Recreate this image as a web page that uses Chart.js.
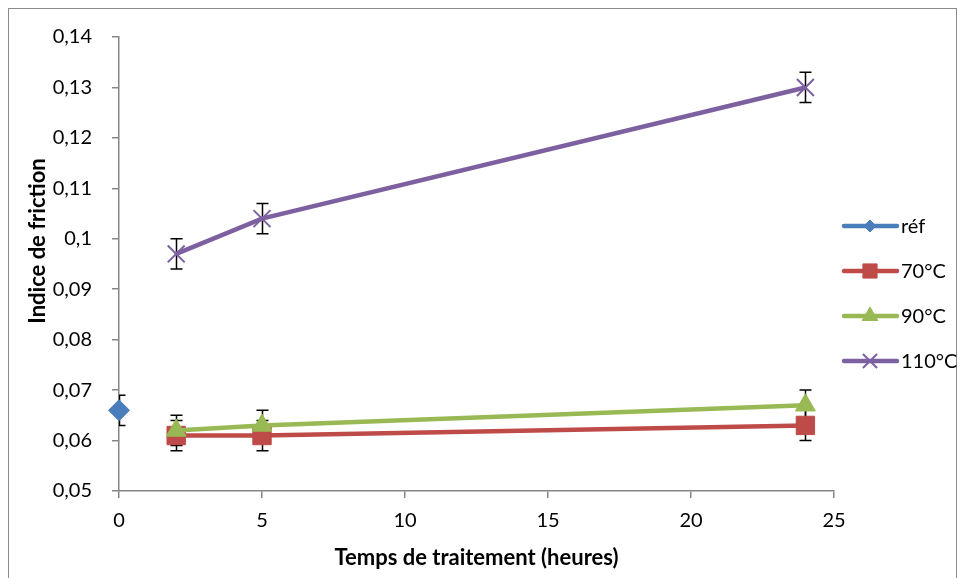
<!DOCTYPE html>
<html>
<head>
<meta charset="utf-8">
<script src="https://cdn.jsdelivr.net/npm/chart.js@4.4.1/dist/chart.umd.min.js"></script>
<style>
  html, body { margin: 0; padding: 0; background: #fff; }
  #wrap { position: relative; width: 958px; height: 578px; }
</style>
</head>
<body>
<div id="wrap"><canvas id="myChart" width="958" height="578"></canvas></div>
<script>
'use strict';

// data
var seriesNames = ['réf', '70°C', '90°C', '110°C'];
var refHours = [0];
var refValues = [0.066];
var hours = [2, 5, 24];
var values70 = [0.061, 0.061, 0.063];
var values90 = [0.062, 0.063, 0.067];
var values110 = [0.097, 0.104, 0.130];
var errRef = [0.003];
var err70 = [0.003, 0.003, 0.003];
var err90 = [0.003, 0.003, 0.003];
var err110 = [0.003, 0.003, 0.003];
var xTicks = [0, 5, 10, 15, 20, 25];
var xTitle = 'Temps de traitement (heures)';
var yTitle = 'Indice de friction';

var FONT = 'Lato, "Open Sans", sans-serif';
var colors = ['#4a7ebb', '#be4b48', '#98b954', '#7d60a0'];
var styles = ['rectRot', 'rect', 'triangle', 'crossRot'];
var radii = [10.5, 13, 11.5, 12];
var legendRadii = [6, 10, 9, 10];

function points (xs, ys, errs) {
   var out = [];
   for (var i = 0; i < xs.length; i++) out.push({ x: xs[i], y: ys[i], err: errs[i] });
   return out;
}

var datasets = [
   points(refHours, refValues, errRef),
   points(hours, values70, err70),
   points(hours, values90, err90),
   points(hours, values110, err110)
].map(function (d, i) {
   return {
      label: seriesNames[i],
      data: d,
      order: -i, // later series drawn on top, like the original
      borderColor: colors[i],
      backgroundColor: colors[i],
      borderWidth: 4.5,
      pointStyle: styles[i],
      pointRadius: radii[i],
      pointBorderWidth: i === 3 ? 2 : 1,
      pointBorderColor: colors[i],
      pointBackgroundColor: colors[i],
      showLine: true,
      tension: 0,
      clip: false
   };
});

// error bars, clipped to the plot area, drawn below the markers
var errorBars = {
   id: 'errorBars',
   beforeDatasetsDraw: function (chart) {
      var ctx = chart.ctx, area = chart.chartArea;
      var xs = chart.scales.x, ys = chart.scales.y;
      ctx.save();
      ctx.beginPath();
      ctx.rect(area.left, area.top, area.right - area.left, area.bottom - area.top);
      ctx.clip();
      ctx.strokeStyle = '#000';
      ctx.lineWidth = 1.5;
      chart.data.datasets.forEach(function (ds) {
         ds.data.forEach(function (p) {
            var px = Math.round(xs.getPixelForValue(p.x)) + 0.5;
            var top = ys.getPixelForValue(p.y + p.err);
            var bot = ys.getPixelForValue(p.y - p.err);
            ctx.beginPath();
            ctx.moveTo(px, top); ctx.lineTo(px, bot);
            ctx.moveTo(px - 6, top); ctx.lineTo(px + 6, top);
            ctx.moveTo(px - 6, bot); ctx.lineTo(px + 6, bot);
            ctx.stroke();
         });
      });
      ctx.restore();
   }
};

// frame, axis titles and a legend drawn as line + marker like the original
var decorations = {
   id: 'decorations',
   afterDraw: function (chart) {
      var ctx = chart.ctx, area = chart.chartArea;
      ctx.save();
      ctx.strokeStyle = '#8c8c8c';
      ctx.lineWidth = 1;
      ctx.strokeRect(8.5, 8.5, 948, 600);

      ctx.fillStyle = '#000';
      ctx.font = 'bold 22px ' + FONT;
      ctx.textAlign = 'center';
      ctx.textBaseline = 'middle';
      ctx.fillText(xTitle, (area.left + area.right) / 2, 558);

      ctx.save();
      ctx.translate(38, 241);
      ctx.rotate(-Math.PI / 2);
      ctx.fillText(yTitle, 0, 0);
      ctx.restore();

      chart.data.datasets.forEach(function (ds, i) {
         var y = 226 + i * 45;
         ctx.strokeStyle = ds.borderColor;
         ctx.lineWidth = 4.5;
         ctx.lineCap = 'round';
         ctx.beginPath();
         ctx.moveTo(844, y); ctx.lineTo(897, y);
         ctx.stroke();
         ctx.lineCap = 'butt';
         ctx.fillStyle = ds.borderColor;
         ctx.strokeStyle = ds.borderColor;
         ctx.lineWidth = ds.pointBorderWidth;
         Chart.helpers.drawPoint(ctx, {
            pointStyle: ds.pointStyle,
            radius: legendRadii[i],
            borderWidth: ds.pointBorderWidth
         }, 870, y);
         ctx.fillStyle = '#000';
         ctx.font = '20px ' + FONT;
         ctx.textBaseline = 'middle';
         ctx.textAlign = 'left';
         ctx.fillText(ds.label, 901, y + 1);
      });
      ctx.restore();
   }
};

var axisColor = '#868686';

new Chart(document.getElementById('myChart'), {
   type: 'scatter',
   data: { datasets: datasets },
   plugins: [errorBars, decorations],
   options: {
      responsive: false,
      animation: false,
      layout: { padding: { left: 22, top: 37, right: 124, bottom: 6 } },
      plugins: { legend: { display: false }, tooltip: { enabled: false } },
      scales: {
         x: {
            type: 'linear',
            min: 0, max: 25,
            afterBuildTicks: function (scale) {
               scale.ticks = xTicks.map(function (v) { return { value: v }; });
            },
            afterFit: function (scale) { scale.height = 81; },
            border: { color: axisColor, width: 1.5 },
            grid: { drawOnChartArea: false, tickLength: 7, color: axisColor, lineWidth: 1.5 },
            ticks: { color: '#000', font: { family: FONT, size: 20 }, padding: 11 },
            title: { display: false }
         },
         y: {
            min: 0.05, max: 0.14,
            ticks: {
               stepSize: 0.01,
               color: '#000',
               font: { family: FONT, size: 20 },
               padding: 20,
               callback: function (v) {
                  return (Math.round(v * 100) / 100).toString().replace('.', ',');
               }
            },
            afterFit: function (scale) { scale.width = 97; },
            border: { color: axisColor, width: 1.5 },
            grid: { drawOnChartArea: false, tickLength: 7, color: axisColor, lineWidth: 1.5 },
            title: { display: false }
         }
      }
   }
});
</script>
</body>
</html>
